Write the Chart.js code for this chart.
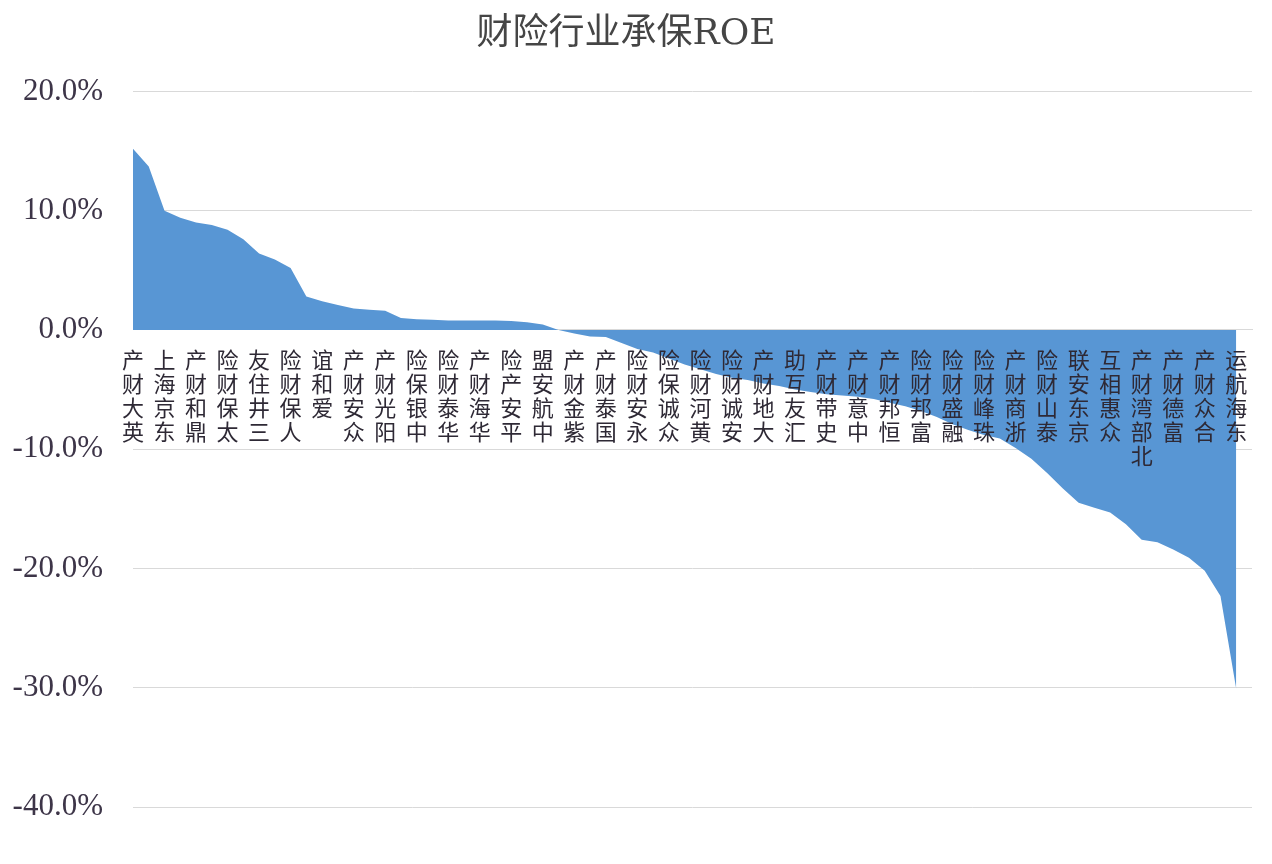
<!DOCTYPE html>
<html>
<head>
<meta charset="utf-8">
<script src="https://cdn.jsdelivr.net/npm/chart.js@4/dist/chart.umd.min.js"></script>
<style>
    body { margin: 0; background: #ffffff; }
    #wrap { width: 1272px; height: 864px; position: relative; }
</style>
</head>
<body>
<div id="wrap"><canvas id="roeChart"></canvas></div>
<script>
"use strict";

// Companies shown on the axis (every other category is labelled in the source)
var shownNames = ['英大财产', '东京海上', '鼎和财产', '太保财险', '三井住友', '人保财险',
    '爱和谊', '众安财产', '阳光财产', '中银保险', '华泰财险', '华海财产', '平安产险',
    '中航安盟', '紫金财产', '国泰财产', '永安财险', '众诚保险', '黄河财险', '安诚财险',
    '大地财产', '汇友互助', '史带财产', '中意财产', '恒邦财产', '富邦财险', '融盛财险',
    '珠峰财险', '浙商财产', '泰山财险', '京东安联', '众惠相互', '北部湾财产', '富德财产',
    '合众财产', '东海航运'];

// Underwriting ROE, %
var roeValues = [15.2, 13.7, 10.0, 9.4, 9.0, 8.8, 8.4, 7.6, 6.4, 5.9,
    5.2, 2.8, 2.4, 2.1, 1.8, 1.7, 1.6, 1.0, 0.9, 0.85,
    0.8, 0.8, 0.8, 0.8, 0.75, 0.65, 0.45, 0.0, -0.3, -0.55,
    -0.6, -1.1, -1.6, -1.9, -2.4, -2.9, -3.3, -3.7, -4.0, -4.2,
    -4.5, -4.7, -5.0, -5.2, -5.4, -5.5, -5.6, -5.8, -6.1, -6.4,
    -6.8, -7.3, -7.9, -8.4, -8.8, -9.1, -9.9, -10.8, -12.0, -13.3,
    -14.5, -14.9, -15.3, -16.3, -17.6, -17.8, -18.4, -19.1, -20.2, -22.3,
    -30.1];

var yTicks = [20, 10, 0, -10, -20, -30, -40];

// full category list: named ones on even slots, one empty slot after the last
var categories = [];
var i;
for (i = 0; i < roeValues.length + 1; i++) {
    categories.push(i % 2 === 0 && shownNames[i / 2] ? shownNames[i / 2] : '');
}

var chartConfig = {
    type: 'line',
    data: {
        labels: categories,
        datasets: [{
            label: '承保ROE',
            data: roeValues,
            fill: 'origin',
            backgroundColor: '#5896d4',
            borderWidth: 0,
            pointRadius: 0,
            tension: 0
        }]
    },
    options: {
        responsive: true,
        maintainAspectRatio: false,
        animation: false,
        layout: {
            padding: {left: 0, right: 20, top: 0, bottom: 57}
        },
        plugins: {
            legend: {display: false},
            tooltip: {enabled: false},
            title: {
                display: true,
                text: '财险行业承保ROE',
                color: '#454545',
                font: {family: '"DejaVu Serif", "Noto Sans CJK SC"', size: 36, weight: 'normal', lineHeight: 1.15},
                padding: {top: 14, bottom: 36}
            }
        },
        scales: {
            x: {
                position: {y: 0},
                grid: {display: false, drawTicks: false},
                border: {display: true, color: '#d9d9d9', width: 1},
                ticks: {
                    z: 1,
                    autoSkip: false,
                    maxRotation: 0,
                    minRotation: 0,
                    padding: 18,
                    color: '#2e2935',
                    font: {family: '"Noto Sans CJK SC"', size: 22, weight: 'normal', lineHeight: '24px'},
                    callback: function (value, index) {
                        var s = categories[index];
                        // characters stacked upright, first one at the bottom
                        return s ? s.split('').reverse() : '';
                    }
                }
            },
            y: {
                min: yTicks[yTicks.length - 1],
                max: yTicks[0],
                afterFit: function (scale) {
                    scale.width = 133;
                },
                grid: {color: '#d9d9d9', lineWidth: 1, drawTicks: false},
                border: {display: false},
                ticks: {
                    stepSize: 10,
                    padding: 30,
                    color: '#3d3548',
                    font: {family: '"Liberation Serif"', size: 31},
                    callback: function (v) {
                        return v.toFixed(1) + '%';
                    }
                }
            }
        }
    }
};

new Chart(document.getElementById('roeChart'), chartConfig);
</script>
</body>
</html>
